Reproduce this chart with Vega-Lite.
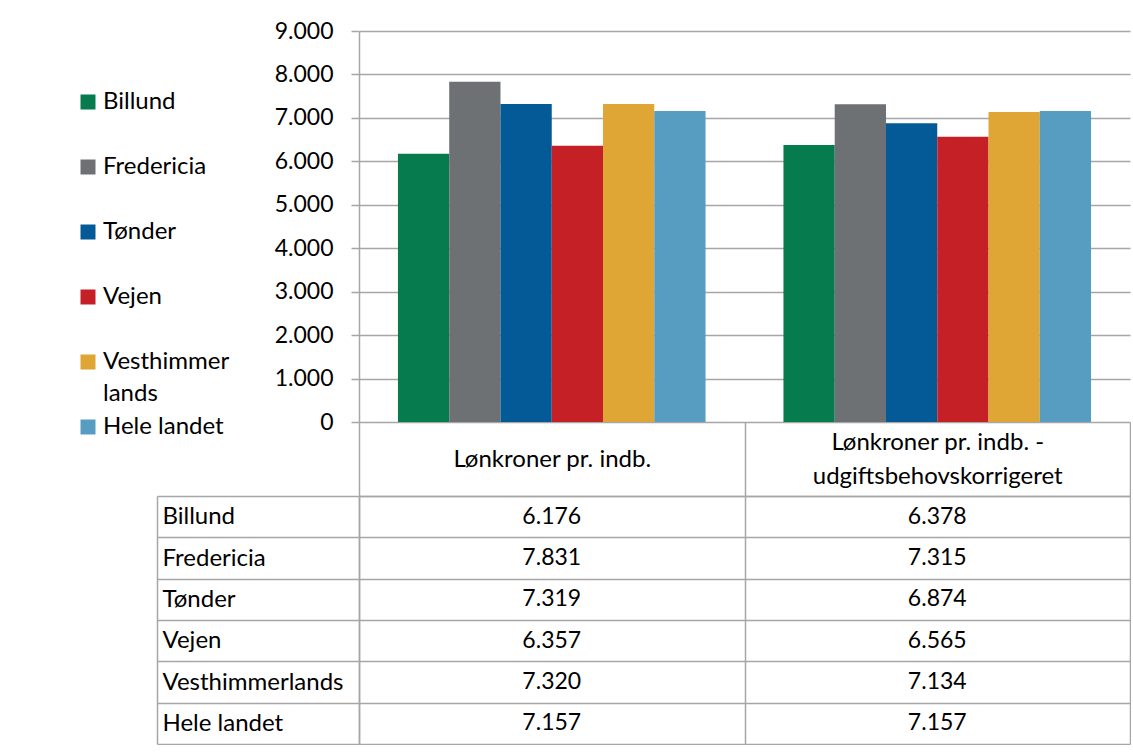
{
  "$schema": "https://vega.github.io/schema/vega-lite/v6.json",
  "background": "white",
  "padding": {"left": 76, "top": 20, "right": 0, "bottom": 0},
  "config": {
    "font": "Lato",
    "locale": {"number": {"decimal": ",", "thousands": ".", "grouping": [3], "currency": ["", " kr."]}},
    "view": {"stroke": null},
    "style": {"guide-label": {"lineHeight": 32}},
    "axis": {
      "title": null,
      "labelFont": "Lato",
      "labelFontSize": 23,
      "labelColor": "#000000",
      "domainColor": "#A6A6A6",
      "tickColor": "#A6A6A6",
      "gridColor": "#A6A6A6",
      "domainWidth": 1.5,
      "tickWidth": 1.5,
      "gridWidth": 1.5,
      "gridOpacity": 1
    }
  },
  "datasets": {
    "loen": [
      {"kommune": "Billund", "maal": "Lønkroner pr. indb.", "kr": 6176},
      {"kommune": "Fredericia", "maal": "Lønkroner pr. indb.", "kr": 7831},
      {"kommune": "Tønder", "maal": "Lønkroner pr. indb.", "kr": 7319},
      {"kommune": "Vejen", "maal": "Lønkroner pr. indb.", "kr": 6357},
      {"kommune": "Vesthimmerlands", "maal": "Lønkroner pr. indb.", "kr": 7320},
      {"kommune": "Hele landet", "maal": "Lønkroner pr. indb.", "kr": 7157},
      {"kommune": "Billund", "maal": "Lønkroner pr. indb. - udgiftsbehovskorrigeret", "kr": 6378},
      {"kommune": "Fredericia", "maal": "Lønkroner pr. indb. - udgiftsbehovskorrigeret", "kr": 7315},
      {"kommune": "Tønder", "maal": "Lønkroner pr. indb. - udgiftsbehovskorrigeret", "kr": 6874},
      {"kommune": "Vejen", "maal": "Lønkroner pr. indb. - udgiftsbehovskorrigeret", "kr": 6565},
      {"kommune": "Vesthimmerlands", "maal": "Lønkroner pr. indb. - udgiftsbehovskorrigeret", "kr": 7134},
      {"kommune": "Hele landet", "maal": "Lønkroner pr. indb. - udgiftsbehovskorrigeret", "kr": 7157}
    ]
  },
  "bounds": "flush",
  "spacing": 74,
  "vconcat": [
    {
      "width": 771,
      "height": 391,
      "data": {"name": "loen"},
      "mark": {"type": "bar"},
      "encoding": {
        "x": {
          "field": "maal", "type": "nominal", "sort": null,
          "scale": {"paddingInner": 0, "paddingOuter": 0},
          "axis": null
        },
        "xOffset": {
          "field": "kommune", "type": "nominal",
          "sort": ["Billund", "Fredericia", "Tønder", "Vejen", "Vesthimmerlands", "Hele landet"],
          "scale": {"paddingInner": 0, "paddingOuter": 0.76}
        },
        "y": {
          "field": "kr", "type": "quantitative",
          "scale": {"domain": [0, 9000], "nice": false},
          "axis": {
            "values": [0, 1000, 2000, 3000, 4000, 5000, 6000, 7000, 8000, 9000],
            "format": ",d",
            "tickSize": 8,
            "labelPadding": 18,
            "grid": true,
            "domain": true
          }
        },
        "color": {
          "field": "kommune", "type": "nominal",
          "sort": ["Billund", "Fredericia", "Tønder", "Vejen", "Vesthimmerlands", "Hele landet"],
          "scale": {"range": ["#067B4E", "#6E7174", "#035A96", "#C62027", "#DFA535", "#579DC1"]},
          "legend": {
            "orient": "left",
            "title": " ",
            "titleFontSize": 10,
            "titlePadding": 49,
            "offset": -74,
            "symbolType": "square",
            "symbolSize": 225,
            "symbolStrokeWidth": 0,
            "symbolOpacity": 1,
            "labelFont": "Lato",
            "labelFontSize": 24,
            "labelColor": "#000000",
            "labelOffset": 3,
            "labelLimit": 200,
            "rowPadding": 9,
            "labelExpr": "datum.label == 'Vesthimmerlands' ? ['Vesthimmer', 'lands'] : [datum.label, '']"
          }
        }
      }
    },
    {
      "width": 771,
      "height": 248,
      "data": {"name": "loen"},
      "layer": [
        {
          "mark": {"type": "text", "font": "Lato", "fontSize": 23, "color": "#000000"},
          "encoding": {
            "x": {
              "field": "maal", "type": "nominal", "sort": null,
              "scale": {"paddingInner": 0, "paddingOuter": 0},
              "axis": {
                "orient": "top",
                "tickBand": "extent",
                "tickSize": 74,
                "labelFontSize": 24,
                "labelPadding": {"condition": {"test": "datum.value == 'Lønkroner pr. indb.'", "value": -37}, "value": -20},
                "labelBaseline": "middle",
                "labelAngle": 0,
                "labelLimit": 400,
                "labelLineHeight": 34,
                "labelExpr": "datum.label == '' ? '' : (datum.value == 'Lønkroner pr. indb.' ? datum.value : ['Lønkroner pr. indb. -', 'udgiftsbehovskorrigeret'])",
                "grid": true,
                "domain": true
              }
            },
            "y": {
              "field": "kommune", "type": "nominal",
              "sort": ["Billund", "Fredericia", "Tønder", "Vejen", "Vesthimmerlands", "Hele landet"],
              "scale": {"paddingInner": 0, "paddingOuter": 0},
              "axis": {
                "tickBand": "extent",
                "tickSize": 202,
                "labelFontSize": 24,
                "labelAlign": "left",
                "labelPadding": -5,
                "labelLimit": 300,
                "grid": true,
                "domain": true
              }
            },
            "text": {"field": "kr", "type": "quantitative", "format": ",d"}
          }
        },
        {
          "mark": {"type": "point", "opacity": 0},
          "encoding": {
            "x": {"field": "maal", "type": "nominal", "sort": null},
            "y": {
              "field": "kommune", "type": "nominal",
              "sort": ["Billund", "Fredericia", "Tønder", "Vejen", "Vesthimmerlands", "Hele landet"],
              "axis": {"orient": "left", "offset": 202, "labels": false, "ticks": false, "grid": false, "domain": true}
            }
          }
        }
      ],
      "resolve": {"axis": {"y": "independent"}}
    }
  ]
}
